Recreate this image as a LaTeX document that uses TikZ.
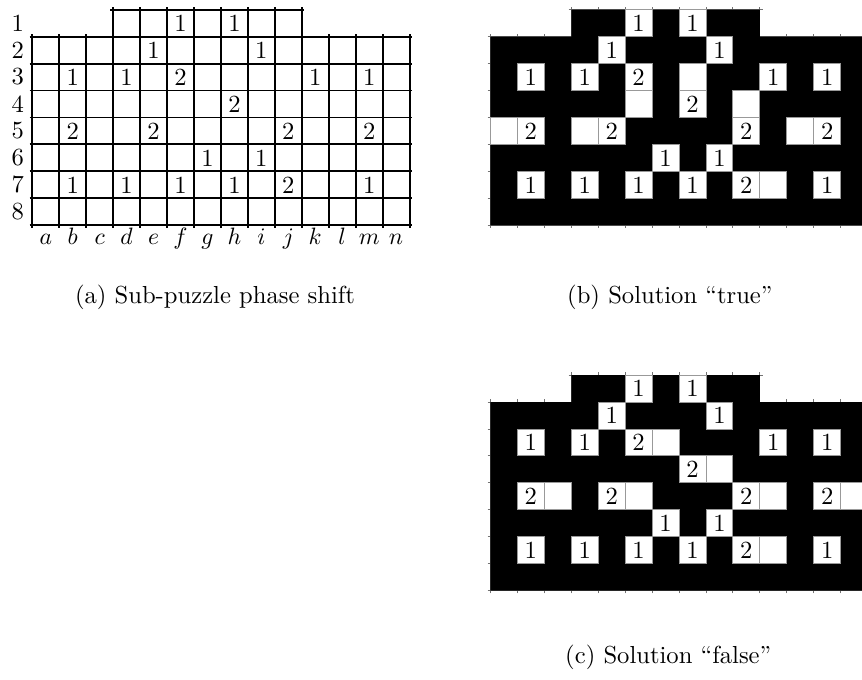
\documentclass[tikz,border=0pt]{standalone}
\usepackage{tikz}

% clues of the sub-puzzle: column/row/value
\newcommand\phaseclues{5/1/1,7/1/1,4/2/1,8/2/1,1/3/1,3/3/1,5/3/2,10/3/1,12/3/1,
  7/4/2,1/5/2,4/5/2,9/5/2,12/5/2,6/6/1,8/6/1,1/7/1,3/7/1,5/7/1,7/7/1,9/7/2,12/7/1}

\begin{document}
\begin{tikzpicture}[x=0.4cm,y=0.4cm,
  every node/.style={font=\fontsize{10.4}{12.5}\selectfont},
  gridline/.style={line width=0.8pt},
  tickline/.style={line width=0.4pt,black!55},
  blank/.style={fill=white,draw=black!40,line width=0.4pt},
  clue/.style={inner sep=0pt}
]
\useasboundingbox (-1.2,-16.87) rectangle (30.79,8.36);

% (a) the empty puzzle
\foreach \y in {0,...,7} \draw[gridline] (-0.1,\y) -- (14.1,\y);
\draw[gridline] (2.9,8) -- (10.1,8);
\foreach \x in {0,1,2,11,12,13,14} \draw[gridline] (\x,-0.1) -- (\x,7.1);
\foreach \x in {3,...,10} \draw[gridline] (\x,-0.1) -- (\x,8.1);
\foreach \r in {1,...,8} \node[left] (row\r) at (0,8.5-\r) {\r};
\foreach \c [count=\i from 0] in {a,b,...,n}
  \node[anchor=base] (col\c) at (\i+0.5,-0.73) {$\c$};
\foreach \x/\r/\v in \phaseclues \node[clue] (a-\x-\r) at (\x+0.5,8.5-\r) {\v};
\node (capA) at (6.78,-2.66) {(a) Sub-puzzle phase shift};

% (b) and (c) the two solutions
\foreach \dy/\sol/\extra in {0/b/{7/3,5/4,9/4,0/5,3/5,11/5,10/7},
                             -13.56/c/{6/3,8/4,2/5,5/5,10/5,13/5,10/7}} {
  \begin{scope}[shift={(17,\dy)}]
    \foreach \y in {0,...,7} \draw[tickline] (-0.1,\y) -- (14.1,\y);
    \draw[tickline] (2.9,8) -- (10.1,8);
    \foreach \x in {0,1,2,11,12,13,14} \draw[tickline] (\x,-0.1) -- (\x,7.1);
    \foreach \x in {3,...,10} \draw[tickline] (\x,-0.1) -- (\x,8.1);
    \fill (0,0) rectangle (14,7) (3,7) rectangle (10,8);
    \foreach \x/\r in \extra \draw[blank] (\x,8-\r) rectangle +(1,1);
    \foreach \x/\r/\v in \phaseclues {
      \draw[blank] (\x,8-\r) rectangle +(1,1);
      \node[clue] (\sol-\x-\r) at (\x+0.5,8.5-\r) {\v};
    }
  \end{scope}
}
\node (capB) at (23.66,-2.66) {(b) Solution ``true''};
\node (capC) at (23.6,-16.05) {(c) Solution ``false''};
\end{tikzpicture}
\end{document}
